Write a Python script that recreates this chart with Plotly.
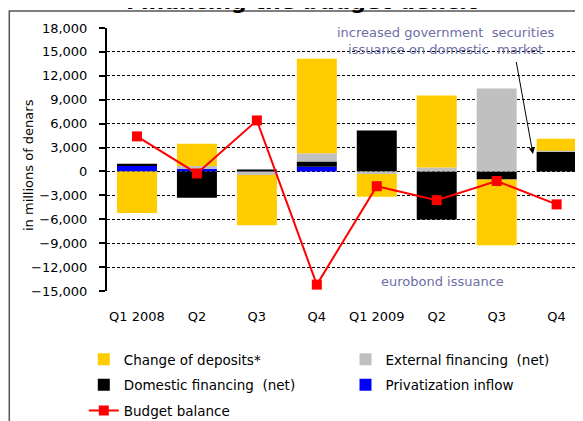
import plotly.graph_objects as go

categories = ["Q1 2008", "Q2", "Q3", "Q4", "Q1 2009", "Q2", "Q3", "Q4"]
deposits = [-5200, 2800, -6280, 11850, -2850, 9040, -8250, 1500]
external = [0, 330, -460, 1040, -330, 500, 10410, 125]
domestic = [300, -3300, 250, 665, 5150, -6020, -1000, 2470]
privatization = [670, 350, 0, 590, 0, 0, 0, 0]
budget = [4400, -250, 6400, -14200, -1850, -3600, -1200, -4130]
y_ticks = list(range(-15000, 18001, 3000))

x = list(range(len(categories)))
FONT = "DejaVu Sans"
NOTE = "#6d6fa6"
W, H = 583, 421
PAPER_BOTTOM, PAPER_H = 429, 401   # page pixels of the paper area


def py(page_y):
    return (PAPER_BOTTOM - page_y) / PAPER_H


def px(page_x):
    return (page_x - 107) / 476


fig = go.Figure()
fig.add_bar(x=x, y=privatization, name="Privatization inflow", marker_color="#0000FF",
            marker_line_width=0, legend="legend2", legendgroup="p", legendrank=2)
fig.add_bar(x=x, y=domestic, name="Domestic financing  (net)", marker_color="#000000",
            marker_line_width=0, legend="legend", legendgroup="d", legendrank=2)
fig.add_bar(x=x, y=external, name="External financing  (net)", marker_color="#C0C0C0",
            marker_line_width=0, legend="legend2", legendgroup="e", legendrank=1)
fig.add_bar(x=x, y=deposits, name="Change of deposits*", marker_color="#FFCC00",
            marker_line_width=0, legend="legend", legendgroup="c", legendrank=1)
fig.add_scatter(x=x, y=budget, name="Budget balance", mode="lines+markers",
                line=dict(color="#FF0000", width=2),
                marker=dict(symbol="square", size=10, color="#FF0000"),
                legend="legend", legendgroup="b", legendrank=3)

xr = [-0.5, 7.44]
legend_common = dict(orientation="v", xref="paper", yref="paper",
                     xanchor="left", yanchor="top", tracegroupgap=5,
                     font=dict(family=FONT, size=13.5), bgcolor="rgba(0,0,0,0)")
fig.update_layout(
    width=W, height=H,
    margin=dict(l=99, r=8, t=20, b=0),
    paper_bgcolor="white", plot_bgcolor="white",
    barmode="relative", bargap=0.333,
    font=dict(family=FONT, size=13, color="black"),
    showlegend=True,
    legend=dict(x=px(83.8), y=py(344), **legend_common),
    legend2=dict(x=px(345.5), y=py(344), **legend_common),
    xaxis=dict(range=xr, tickmode="array", tickvals=x, ticktext=categories,
               showgrid=False, zeroline=False, showline=False, ticks="",
               ticklabelstandoff=16, tickfont=dict(size=13), automargin=False),
    xaxis2=dict(overlaying="x", anchor="free", position=py(172), range=xr,
                tickmode="array", tickvals=[i + 0.5 for i in x], showticklabels=False,
                ticks="outside", ticklen=4, tickcolor="black", tickwidth=1,
                showline=True, linecolor="black", linewidth=2, showgrid=False,
                zeroline=False, automargin=False),
    yaxis=dict(domain=[py(291), 1], range=[-15000, 18000], tickmode="array",
               tickvals=y_ticks, tickformat=",d", showgrid=True, gridcolor="black",
               gridwidth=1, griddash="3px,2px", zeroline=False, showline=True,
               linecolor="black", linewidth=2, ticks="outside", ticklen=6,
               tickcolor="black", tickwidth=1.5, ticklabelstandoff=9, automargin=False),
)

fig.add_annotation(text="<b>Financing the budget deficit</b>", xref="paper", yref="paper",
                   x=px(302), y=py(1), xanchor="center", yanchor="middle",
                   showarrow=False, font=dict(size=22, color="black"))
fig.add_annotation(text="in millions of denars", xref="paper", yref="paper",
                   x=px(28), y=py(165), textangle=-90, xanchor="center",
                   yanchor="middle", showarrow=False, font=dict(size=13, color="black"))
fig.add_annotation(text="increased government  securities<br>issuance on domestic  market",
                   x=5.155, y=16400, xref="x", yref="y", showarrow=False,
                   font=dict(size=13, color=NOTE))
fig.add_annotation(text="eurobond issuance", x=5.09, y=-13760, xref="x", yref="y",
                   showarrow=False, font=dict(size=13, color=NOTE))
fig.add_annotation(text="", x=6.605, y=2200, ax=6.322, ay=13930, xref="x", yref="y",
                   axref="x", ayref="y", showarrow=True, arrowhead=2, arrowsize=1.2,
                   arrowwidth=1, arrowcolor="black")
fig.add_shape(type="rect", xref="paper", yref="paper",
              x0=px(9.3), x1=1.05, y0=-0.1, y1=py(11),
              line=dict(color="#555555", width=1.5), fillcolor="rgba(0,0,0,0)", layer="below")

fig.write_html("out.html")
